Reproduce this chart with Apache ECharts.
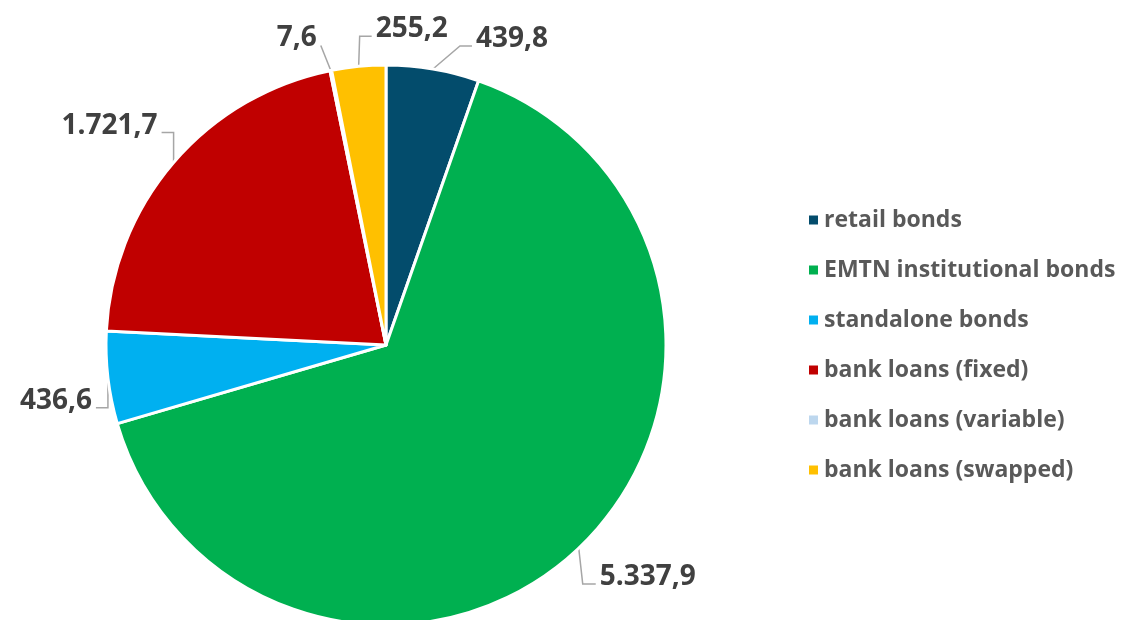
<!DOCTYPE html>
<html>
<head>
<meta charset="utf-8">
<script src="https://cdn.jsdelivr.net/npm/echarts@6/dist/echarts.min.js"></script>
<style>
html,body{margin:0;padding:0;background:#fff;}
#main{width:1123px;height:620px;}
</style>
</head>
<body>
<div id="main"></div>
<script>
// ---- data ----
const categories = ['retail bonds', 'EMTN institutional bonds', 'standalone bonds', 'bank loans (fixed)', 'bank loans (variable)', 'bank loans (swapped)'];
const values = [439.8, 5337.9, 436.6, 1721.7, 7.6, 255.2];
const colors = ['#034C6C', '#00B050', '#00B0F0', '#C00000', '#BDD7EE', '#FFC000'];

// label-line leader shapes (Excel-like): [dx1, dy1, dx2, side]
const leaders = [
  [27, -23, 12, 'left'],
  [4, 36, 13, 'left'],
  [0, 30, -12, 'right'],
  [0, -30, -12, 'right'],
  [-10, -25, 0, 'right'],
  [1, -30, 12, 'left']
];

function fmt(v) {
  const parts = v.toFixed(1).split('.');
  const intPart = parts[0].replace(/\B(?=(\d{3})+(?!\d))/g, '.');
  return intPart + ',' + parts[1];
}

const chart = echarts.init(document.getElementById('main'), null, {renderer: 'canvas'});
chart.setOption({
  animation: false,
  color: colors,
  legend: {
    orient: 'vertical',
    left: 802,
    top: 201,
    itemWidth: 11,
    itemHeight: 11,
    itemGap: 22,
    icon: 'rect',
    textStyle: {
      fontFamily: 'Open Sans',
      fontWeight: 'bold',
      fontSize: 23,
      color: '#595959',
      lineHeight: 28,
      padding: [0, 0, 0, 0]
    },
    data: categories
  },
  series: [{
    type: 'pie',
    center: [386, 345],
    radius: 280,
    startAngle: 90,
    clockwise: true,
    avoidLabelOverlap: false,
    itemStyle: { borderColor: '#ffffff', borderWidth: 3 },
    label: {
      show: true,
      position: 'outside',
      formatter: p => fmt(p.value),
      fontFamily: 'Open Sans',
      fontWeight: 'bold',
      fontSize: 28,
      color: '#404040'
    },
    labelLine: {
      show: true,
      length: 20,
      length2: 10,
      lineStyle: { color: '#A6A6A6', width: 1.5 }
    },
    labelLayout: function (p) {
      const pts = p.labelLinePoints;
      if (!pts) return {};
      const L = leaders[p.dataIndex];
      const a = pts[0];
      const b = [a[0] + L[0], a[1] + L[1]];
      const c = [b[0] + L[2], b[1]];
      const gap = 4;
      const x = L[3] === 'left' ? c[0] + gap : c[0] - gap;
      return {
        x: x,
        y: c[1] - 7,
        align: L[3],
        verticalAlign: 'middle',
        labelLinePoints: [a, b, c]
      };
    },
    data: categories.map((c, i) => ({ name: c, value: values[i] }))
  }]
});
</script>
</body>
</html>
